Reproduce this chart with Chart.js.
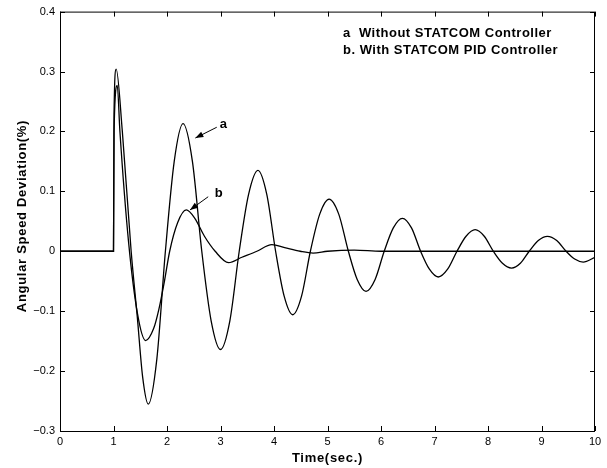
<!DOCTYPE html>
<html>
<head>
<meta charset="utf-8">
<script src="https://cdn.jsdelivr.net/npm/chart.js@4/dist/chart.umd.min.js"></script>
<style>
  html, body { margin: 0; padding: 0; background: #fff; }
  canvas { display: block; }
</style>
</head>
<body>
<canvas id="speedChart" width="607" height="468"></canvas>
<script>
// curve a: without STATCOM controller
const timeA = [0, 1.0, 1.01, 1.05, 1.165, 1.33, 1.445, 1.545, 1.65, 1.81, 1.97, 2.135, 2.3,
    2.475, 2.65, 2.825, 3.0, 3.175, 3.35, 3.525, 3.7, 3.865, 4.03, 4.19, 4.35, 4.515, 4.68,
    4.855, 5.03, 5.21, 5.39, 5.555, 5.72, 5.89, 6.06, 6.23, 6.4, 6.57, 6.74, 6.905, 7.07, 7.245,
    7.42, 7.59, 7.76, 7.93, 8.1, 8.27, 8.44, 8.605, 8.77, 8.94, 9.11, 9.285, 9.46, 9.62, 9.78, 10];
const speedA = [0, 0, 0.23, 0.304, 0.2, 0, -0.11, -0.21, -0.255, -0.18, 0, 0.15, 0.213,
    0.15, 0, -0.116, -0.164, -0.116, 0, 0.095, 0.135, 0.095, 0, -0.075, -0.106, -0.075, 0,
    0.062, 0.087, 0.062, 0, -0.047, -0.067, -0.047, 0, 0.039, 0.055, 0.039, 0, -0.030, -0.043, -0.030,
    0, 0.025, 0.036, 0.025, 0, -0.020, -0.028, -0.020, 0, 0.018, 0.025, 0.018, 0, -0.013, -0.018, -0.010];

// curve b: with STATCOM PID controller
const timeB = [0, 1.0, 1.01, 1.07, 1.12, 1.28, 1.45, 1.6, 1.75, 1.85, 1.95, 2.05, 2.2, 2.36, 2.52,
    2.7, 2.9, 3.15, 3.4, 3.68, 3.96, 4.2, 4.49, 4.73, 5.0, 5.5, 6.0, 10];
const speedB = [0, 0, 0.2, 0.277, 0.2, 0.017, -0.105, -0.149, -0.129, -0.096, -0.051, 0, 0.048, 0.069, 0.055,
    0.025, 0, -0.019, -0.01, 0, 0.011, 0.006, 0, -0.003, 0, 0.002, 0, 0];

const xTicks = [0, 1, 2, 3, 4, 5, 6, 7, 8, 9, 10];
const yTicks = [-0.3, -0.2, -0.1, 0, 0.1, 0.2, 0.3, 0.4];

const legendLines = ['a  Without STATCOM Controller', 'b. With STATCOM PID Controller'];
// label text, label position, arrow tail, arrow head (data units)
const arrowNotes = [
    { text: 'a', at: [3.04, 0.211], from: [2.93, 0.207], to: [2.53, 0.189] },
    { text: 'b', at: [2.95, 0.096], from: [2.77, 0.091], to: [2.43, 0.069] }
];

const FONT = '"Liberation Sans", Arial, Helvetica, sans-serif';

function pairs(ts, vs) {
    return ts.map((t, i) => ({ x: t, y: vs[i] }));
}

function fmtTick(v) {
    const r = Math.round(v * 10) / 10;
    if (r === 0) return '0';
    return r.toFixed(1).replace('-', '\u2212');
}

const framePlugin = {
    id: 'frame',
    afterDraw(chart) {
        const { ctx, chartArea: a, scales } = chart;
        const x = scales.x, y = scales.y;
        ctx.save();
        ctx.strokeStyle = '#000';
        ctx.lineWidth = 1;
        ctx.strokeRect(a.left + 0.5, a.top + 0.5, a.right - a.left - 1, a.bottom - a.top);

        // inward ticks on all four sides
        const len = 5;
        ctx.beginPath();
        xTicks.forEach(v => {
            const px = Math.round(x.getPixelForValue(v)) + 0.5;
            ctx.moveTo(px, a.bottom); ctx.lineTo(px, a.bottom - len);
            ctx.moveTo(px, a.top); ctx.lineTo(px, a.top + len);
        });
        yTicks.forEach(v => {
            const py = Math.round(y.getPixelForValue(v)) + 0.5;
            ctx.moveTo(a.left, py); ctx.lineTo(a.left + len, py);
            ctx.moveTo(a.right, py); ctx.lineTo(a.right - len, py);
        });
        ctx.stroke();

        // axis titles
        ctx.fillStyle = '#000';
        ctx.font = 'bold 13px ' + FONT;
        ctx.letterSpacing = '0.7px';
        ctx.textAlign = 'center';
        ctx.textBaseline = 'middle';
        ctx.fillText('Time(sec.)', (a.left + a.right) / 2, 458);
        ctx.save();
        ctx.translate(22, 216);
        ctx.rotate(-Math.PI / 2);
        ctx.fillText('Angular Speed Deviation(%)', 0, 0);
        ctx.restore();

        // legend text
        ctx.font = 'bold 13px ' + FONT;
        ctx.letterSpacing = '0.5px';
        ctx.textAlign = 'left';
        ctx.fillText(legendLines[0], 343, 33);
        ctx.fillText(legendLines[1], 343, 50);

        // arrows with labels
        ctx.letterSpacing = '0px';
        arrowNotes.forEach(n => {
            const lx = x.getPixelForValue(n.at[0]), ly = y.getPixelForValue(n.at[1]);
            const fx = x.getPixelForValue(n.from[0]), fy = y.getPixelForValue(n.from[1]);
            const tx = x.getPixelForValue(n.to[0]), ty = y.getPixelForValue(n.to[1]);
            ctx.fillText(n.text, lx - 3, ly);
            ctx.beginPath();
            ctx.moveTo(fx, fy); ctx.lineTo(tx, ty);
            ctx.stroke();
            const ang = Math.atan2(ty - fy, tx - fx);
            const hl = 8, hw = 3;
            ctx.beginPath();
            ctx.moveTo(tx, ty);
            ctx.lineTo(tx - hl * Math.cos(ang) + hw * Math.sin(ang), ty - hl * Math.sin(ang) - hw * Math.cos(ang));
            ctx.lineTo(tx - hl * Math.cos(ang) - hw * Math.sin(ang), ty - hl * Math.sin(ang) + hw * Math.cos(ang));
            ctx.closePath();
            ctx.fill();
        });
        ctx.restore();
    }
};

const lineStyle = {
    borderColor: '#000',
    borderWidth: 1.3,
    pointRadius: 0,
    fill: false,
    cubicInterpolationMode: 'monotone'
};

new Chart(document.getElementById('speedChart').getContext('2d'), {
    type: 'line',
    data: {
        datasets: [
            Object.assign({ label: 'a', data: pairs(timeA, speedA) }, lineStyle),
            Object.assign({ label: 'b', data: pairs(timeB, speedB) }, lineStyle)
        ]
    },
    options: {
        responsive: false,
        animation: false,
        devicePixelRatio: 1,
        layout: { padding: { top: 9, right: 12, left: 0, bottom: 0 } },
        plugins: { legend: { display: false }, tooltip: { enabled: false } },
        scales: {
            x: {
                type: 'linear', min: 0, max: 10,
                grid: { display: false, drawTicks: false },
                border: { display: false },
                afterBuildTicks: s => { s.ticks = xTicks.map(v => ({ value: v })); },
                afterFit: s => { s.height = 37; },
                ticks: { color: '#000', font: { family: FONT, size: 11 }, padding: 4, maxRotation: 0,
                    callback: v => String(v) }
            },
            y: {
                type: 'linear', min: -0.3, max: 0.4,
                grid: { display: false, drawTicks: false },
                border: { display: false },
                afterBuildTicks: s => { s.ticks = yTicks.map(v => ({ value: v })); },
                afterFit: s => { s.width = 60; },
                ticks: { color: '#000', font: { family: FONT, size: 11 }, padding: 5,
                    callback: v => fmtTick(v) }
            }
        }
    },
    plugins: [framePlugin]
});
</script>
</body>
</html>
